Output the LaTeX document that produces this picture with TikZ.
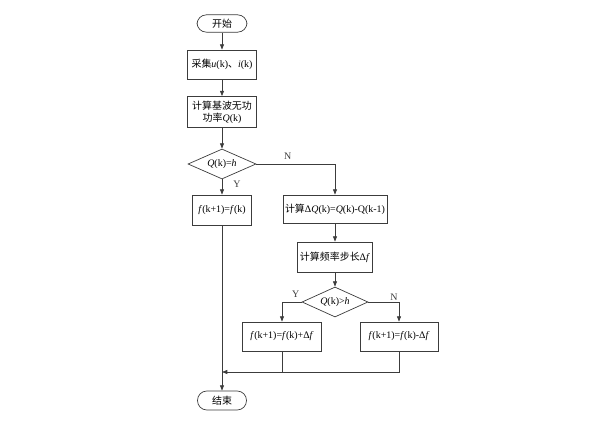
\documentclass[tikz,border=0pt]{standalone}
\usepackage{fontspec}
\setmainfont{Liberation Serif}
\newfontfamily\cjk{Noto Sans CJK SC}
\usepackage{xcolor}
\definecolor{linegray}{RGB}{60, 60, 60}
\usepackage{tikz}
\usetikzlibrary{shapes,arrows.meta,positioning,calc}

\begin{document}
\begin{tikzpicture}[
  x=0.03cm, y=-0.03cm,
  font=\fontsize{8.5}{10}\selectfont,
  procbox/.style={draw=linegray, line width=0.6pt, rectangle, inner sep=1pt, align=center},
  termbox/.style={draw=linegray, line width=0.6pt, rectangle, rounded corners=8pt, inner sep=1pt},
  testbox/.style={draw=linegray, line width=0.6pt, diamond, aspect=2.3, inner sep=0pt},
  arrowstyle/.style={-{Triangle[length=4.5pt,width=3.4pt]}, line width=0.6pt, color=linegray},
  linestyle/.style={line width=0.6pt, color=linegray}
]
\useasboundingbox (0,0) rectangle (593,423);

\node[termbox, minimum width=1.5cm, minimum height=0.52cm] (start) at (222, 23.5) {\cjk 开始};
\node[procbox, minimum width=2.07cm, minimum height=0.87cm] (acq) at (222, 64.5) {{\cjk 采集}\textit{u}(k){\cjk 、}\textit{i}(k)};
\node[procbox, minimum width=2.07cm, minimum height=0.93cm] (calc) at (222, 112) {{\cjk 计算基波无功}\\{\cjk 功率}\textit{Q}(k)};
\node[testbox, minimum width=2.04cm, minimum height=0.9cm] (d1) at (222, 164) {\textit{Q}(k)=\textit{h}};
\node[procbox, minimum width=1.77cm, minimum height=0.9cm] (fk) at (222, 210) {\textit{f}(k+1)=\textit{f}(k)};

\node[procbox, minimum width=3.12cm, minimum height=0.84cm] (dq) at (335, 209) {{\cjk 计算}Δ\textit{Q}(k)=\textit{Q}(k)-Q(k-1)};
\node[procbox, minimum width=2.25cm, minimum height=0.9cm] (stepsz) at (335, 257) {{\cjk 计算频率步长}Δ\textit{f}};
\node[testbox, minimum width=1.98cm, minimum height=0.9cm] (d2) at (335, 302) {\textit{Q}(k)>\textit{h}};
\node[procbox, minimum width=2.37cm, minimum height=0.87cm] (fplus) at (282, 336.5) {\textit{f}(k+1)=\textit{f}(k)+Δ\textit{f}};
\node[procbox, minimum width=2.34cm, minimum height=0.87cm] (fminus) at (399, 336.5) {\textit{f}(k+1)=\textit{f}(k)-Δ\textit{f}};

\node[termbox, minimum width=1.47cm, minimum height=0.57cm] (stop) at (222, 400.5) {\cjk 结束};
\coordinate (join) at (222, 372);

\draw[arrowstyle] (start) -- (acq);
\draw[arrowstyle] (acq) -- (calc);
\draw[arrowstyle] (calc) -- (d1);
\draw[arrowstyle] (d1) -- node[right, pos=0.3, xshift=6pt]{Y} (fk);
\draw[arrowstyle] (d1.east) -| node[above, pos=0.2]{N} (dq.north);
\draw[arrowstyle] (dq) -- (stepsz);
\draw[arrowstyle] (stepsz) -- (d2);
\draw[arrowstyle] (d2.west) -| node[above, pos=0.15]{Y} (fplus.north);
\draw[arrowstyle] (d2.east) -| node[above left, pos=0.5, inner sep=1pt]{N} (fminus.north);

% merge back into the main column
\draw[linestyle] (fplus.south) -- (fplus.south |- join);
\draw[arrowstyle] (fminus.south) |- (join);
\draw[arrowstyle] (fk.south) -- (stop.north);
\end{tikzpicture}
\end{document}
